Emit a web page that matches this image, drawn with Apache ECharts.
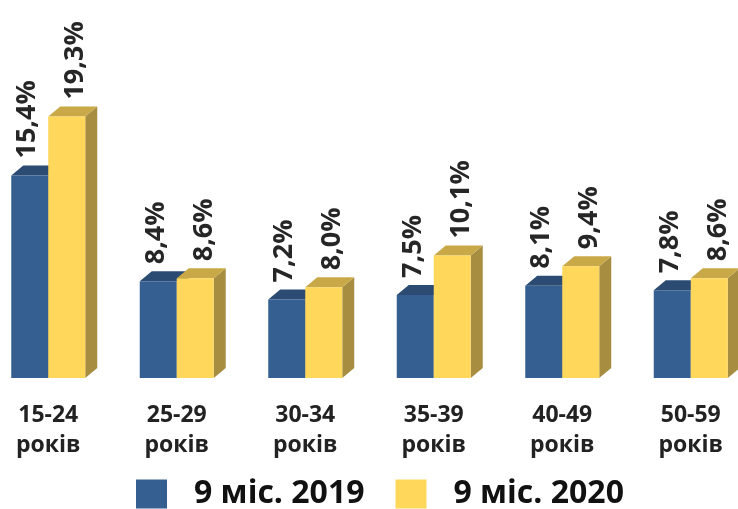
<!DOCTYPE html>
<html>
<head>
<meta charset="utf-8">
<script src="https://cdn.jsdelivr.net/npm/echarts@6/dist/echarts.min.js"></script>
<style>
  html, body { margin: 0; padding: 0; background: #fff; overflow: hidden; }
  /* ширший за вікно, щоб крайні групи стояли як в оригіналі */
  #chart { width: 771px; height: 509px; position: absolute; left: -16px; top: 0; }
</style>
</head>
<body>
<div id="chart"></div>
<script>
  // дані
  let categories = ['15-24\nроків', '25-29\nроків', '30-34\nроків', '35-39\nроків', '40-49\nроків', '50-59\nроків'];
  let seriesNames = ['9 міс. 2019', '9 міс. 2020'];
  let values2019 = [15.4, 8.4, 7.2, 7.5, 8.1, 7.8];
  let values2020 = [19.3, 8.6, 8.0, 10.1, 9.4, 8.6];

  let yMin = 2;
  let barW = 37;
  let depthX = 12, depthY = 10;

  let palette = [
    { front: '#365f91', top: '#2b4b72', side: '#28466a' },
    { front: '#ffd75a', top: '#c9a947', side: '#a68d40' }
  ];

  function bar3d(serIdx) {
    return function (params, api) {
      let v = api.value(1);
      let top = api.coord([api.value(0), v]);
      let base = api.coord([api.value(0), yMin]);
      let x0 = top[0] + (serIdx === 0 ? -barW : 0);
      let x1 = x0 + barW;
      let yT = top[1], yB = base[1];
      let c = palette[serIdx];
      let label = v.toFixed(1).replace('.', ',') + '%';
      let lx = (x0 + x1) / 2 + (serIdx === 0 ? -2 : 9);
      return {
        type: 'group',
        children: [
          { type: 'polygon', shape: { points: [[x1, yT], [x1 + depthX, yT - depthY], [x1 + depthX, yB - depthY], [x1, yB]] }, style: { fill: c.side } },
          { type: 'polygon', shape: { points: [[x0, yT], [x0 + depthX, yT - depthY], [x1 + depthX, yT - depthY], [x1, yT]] }, style: { fill: c.top } },
          { type: 'rect', shape: { x: x0, y: yT, width: barW, height: yB - yT }, style: { fill: c.front } },
          {
            type: 'text', x: lx, y: yT - depthY - 7, rotation: Math.PI / 2,
            style: { text: label, fill: '#262626', font: 'bold 27px "Open Sans", sans-serif', align: 'left', verticalAlign: 'middle' }
          }
        ]
      };
    };
  }

  let chart = echarts.init(document.getElementById('chart'));
  let option = {
    animation: false,
    legend: {
      bottom: -1,
      left: 152,
      padding: 0,
      itemWidth: 31,
      itemHeight: 29,
      itemGap: 31,
      icon: 'rect',
      textStyle: { fontSize: 32, fontWeight: 'bold', color: '#111', fontFamily: 'Open Sans', padding: [0, 0, 0, 22] },
      data: seriesNames
    },
    grid: { left: 0, right: 0, top: 106, bottom: 131 },
    xAxis: {
      type: 'category',
      data: categories,
      axisLine: { show: false },
      axisTick: { show: false },
      axisLabel: { fontSize: 23, fontWeight: 'bold', color: '#222', lineHeight: 30, margin: 22, fontFamily: 'Open Sans' }
    },
    yAxis: { type: 'value', min: yMin, max: 20, show: false, splitLine: { show: false } },
    series: [
      {
        name: seriesNames[0], type: 'custom', renderItem: bar3d(0),
        itemStyle: { color: palette[0].front },
        data: values2019.map((v, i) => [i, v])
      },
      {
        name: seriesNames[1], type: 'custom', renderItem: bar3d(1),
        itemStyle: { color: palette[1].front },
        data: values2020.map((v, i) => [i, v])
      }
    ]
  };
  chart.setOption(option);
</script>
</body>
</html>
